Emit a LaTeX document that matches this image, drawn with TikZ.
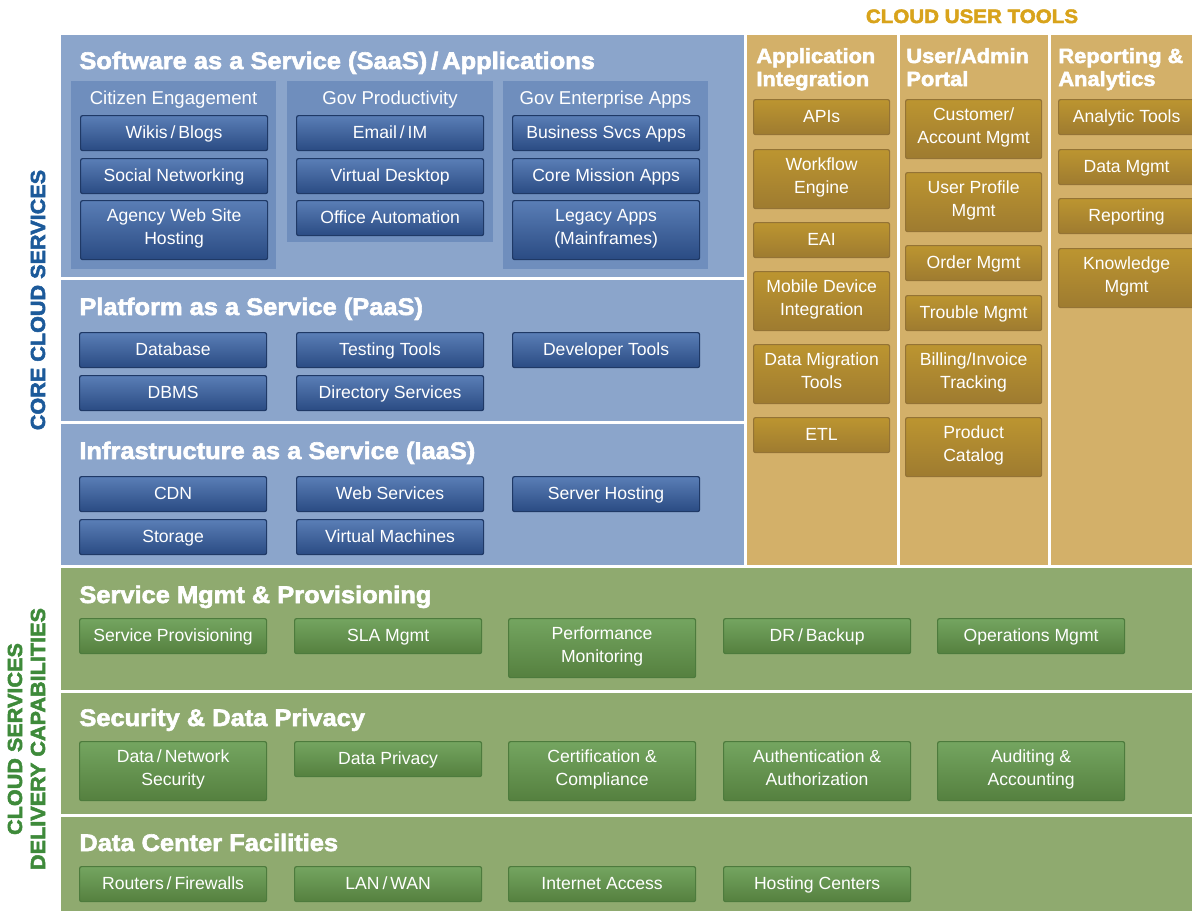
\documentclass[tikz,border=0pt]{standalone}
\usepackage{fontspec}
\setmainfont{Liberation Sans}
\newfontfamily\headfont[FakeStretch=1.06,FakeBold=2.5]{Liberation Sans Bold}
\usetikzlibrary{positioning}

\definecolor{bandblue}{HTML}{8BA5CB}
\definecolor{panelblue}{HTML}{6F8EBD}
\definecolor{blueTop}{HTML}{5A7EB6}
\definecolor{blueBot}{HTML}{2A4B83}
\definecolor{blueLine}{HTML}{1F3966}
\definecolor{bandgold}{HTML}{D3B069}
\definecolor{goldTop}{HTML}{BC9530}
\definecolor{goldBot}{HTML}{9E7B30}
\definecolor{goldLine}{HTML}{947335}
\definecolor{bandgreen}{HTML}{8FAA6F}
\definecolor{greenTop}{HTML}{74A560}
\definecolor{greenBot}{HTML}{55803F}
\definecolor{greenLine}{HTML}{4D7B3D}
\definecolor{coreblue}{HTML}{1C5A9A}
\definecolor{deliverygreen}{HTML}{3E8A3A}
\definecolor{toolsgold}{HTML}{D8A31B}

% struts that keep box labels centred on their capitals
\newcommand\topstrut{\rule{0pt}{8.5pt}}
\newcommand\botstrut{\rule[-3pt]{0pt}{3pt}}

\tikzset{%
  svc/.style={draw, rounded corners=1pt, line width=0.6pt, anchor=north west,
    align=center, text=white, inner sep=0pt,
    font=\fontsize{8.8}{11.5}\selectfont,
    execute at begin node=\topstrut, execute at end node=\botstrut},
  blue box/.style={svc, minimum width=93.5pt, minimum height=17.5pt,
    draw=blueLine, top color=blueTop, bottom color=blueBot},
  gold box/.style={svc, minimum width=68pt, minimum height=17.5pt,
    draw=goldLine, top color=goldTop, bottom color=goldBot},
  green box/.style={svc, minimum width=93.5pt, minimum height=17.5pt,
    draw=greenLine, top color=greenTop, bottom color=greenBot},
  tall/.style={minimum height=29.5pt},
  layer title/.style={anchor=base west, inner sep=0pt, text=white,
    font=\headfont\fontsize{12}{14}\selectfont},
  column title/.style={anchor=base west, align=left, inner sep=0pt, text=white,
    font=\headfont\fontsize{10.3}{11.5}\selectfont},
  group title/.style={anchor=base, inner sep=0pt, text=white,
    font=\fontsize{9.3}{11}\selectfont},
  side label/.style={rotate=90, align=center, inner sep=0pt,
    font=\headfont\fontsize{10.2}{11.5}\selectfont}
}

\begin{document}
\begin{tikzpicture}[x=0.5pt, y=-0.5pt]
  \useasboundingbox (0,0) rectangle (1192,911);
  \clip (0,0) rectangle (1192,911);

  % bands
  \fill[bandblue] (61,35) rectangle (744,277);
  \fill[bandblue] (61,280) rectangle (744,421);
  \fill[bandblue] (61,424) rectangle (744,565);
  \fill[bandgold] (747,35) rectangle (897,565);
  \fill[bandgold] (900,35) rectangle (1048,565);
  \fill[bandgold] (1051,35) rectangle (1192,565);
  \fill[bandgreen] (61,568) rectangle (1192,690);
  \fill[bandgreen] (61,693) rectangle (1192,814);
  \fill[bandgreen] (61,817) rectangle (1192,911);

  % side labels
  \node[side label, text=coreblue] (core) at (38,300) {CORE CLOUD SERVICES};
  \node[side label, text=deliverygreen] (delivery) at (26.5,739)
    {CLOUD SERVICES\\DELIVERY CAPABILITIES};
  \node[anchor=base, inner sep=0pt, text=toolsgold,
    font=\headfont\fontsize{9.7}{12}\selectfont] (tools) at (972,23) {CLOUD USER TOOLS};

  % SaaS
  \node[layer title] (saas) at (79,69) {Software as a Service (SaaS)\,/\,Applications};
  \fill[panelblue] (71,81) rectangle (276,269);
  \fill[panelblue] (287,81) rectangle (493,242);
  \fill[panelblue] (503,81) rectangle (708,269);
  \node[group title] (citizen) at (173.5,104) {Citizen Engagement};
  \node[group title] (govprod) at (390,104) {Gov Productivity};
  \node[group title] (govent) at (605.5,104) {Gov Enterprise Apps};

  \node[blue box] (wikis) at (80,115) {Wikis\,/\,Blogs};
  \node[blue box] (social) at (80,158) {Social Networking};
  \node[blue box, tall] (agency) at (80,200) {Agency Web Site\\Hosting};
  \node[blue box] (email) at (296,115) {Email\,/\,IM};
  \node[blue box] (vdesk) at (296,158) {Virtual Desktop};
  \node[blue box] (office) at (296,200) {Office Automation};
  \node[blue box] (bizapps) at (512,115) {Business Svcs Apps};
  \node[blue box] (coreapps) at (512,158) {Core Mission Apps};
  \node[blue box, tall] (legacy) at (512,200) {Legacy Apps\\(Mainframes)};

  % PaaS
  \node[layer title] (paas) at (79,315) {Platform as a Service (PaaS)};
  \node[blue box] (database) at (79,332) {Database};
  \node[blue box] (testing) at (296,332) {Testing Tools};
  \node[blue box] (devtools) at (512,332) {Developer Tools};
  \node[blue box] (dbms) at (79,375) {DBMS};
  \node[blue box] (directory) at (296,375) {Directory Services};

  % IaaS
  \node[layer title] (iaas) at (79,459) {Infrastructure as a Service (IaaS)};
  \node[blue box] (cdn) at (79,476) {CDN};
  \node[blue box] (websvc) at (296,476) {Web Services};
  \node[blue box] (hosting) at (512,476) {Server Hosting};
  \node[blue box] (storage) at (79,519) {Storage};
  \node[blue box] (vms) at (296,519) {Virtual Machines};

  % user tools columns (base is the second line)
  \node[column title] (appint) at (756,86) {Application\\Integration};
  \node[column title] (portal) at (906,86) {User/Admin\\Portal};
  \node[column title] (analytics) at (1058,86) {Reporting \&\\Analytics};

  \node[gold box] (apis) at (753,99) {APIs};
  \node[gold box, tall] (workflow) at (753,149) {Workflow\\Engine};
  \node[gold box] (eai) at (753,222) {EAI};
  \node[gold box, tall] (mobile) at (753,271) {Mobile Device\\Integration};
  \node[gold box, tall] (migration) at (753,344) {Data Migration\\Tools};
  \node[gold box] (etl) at (753,417) {ETL};

  \node[gold box, tall] (customer) at (905,99) {Customer/\\Account Mgmt};
  \node[gold box, tall] (profile) at (905,172) {User Profile\\Mgmt};
  \node[gold box] (order) at (905,245) {Order Mgmt};
  \node[gold box] (trouble) at (905,295) {Trouble Mgmt};
  \node[gold box, tall] (billing) at (905,344) {Billing/Invoice\\Tracking};
  \node[gold box, tall] (catalog) at (905,417) {Product\\Catalog};

  \node[gold box] (analytic) at (1058,99) {Analytic Tools};
  \node[gold box] (datamgmt) at (1058,149) {Data Mgmt};
  \node[gold box] (reporting) at (1058,198) {Reporting};
  \node[gold box, tall] (knowledge) at (1058,248) {Knowledge\\Mgmt};

  % delivery capabilities
  \node[layer title] (provtitle) at (79,603) {Service Mgmt \& Provisioning};
  \node[green box] (provisioning) at (79,618) {Service Provisioning};
  \node[green box] (sla) at (294,618) {SLA Mgmt};
  \node[green box, tall] (perf) at (508,618) {Performance\\Monitoring};
  \node[green box] (backup) at (723,618) {DR\,/\,Backup};
  \node[green box] (ops) at (937,618) {Operations Mgmt};

  \node[layer title] (sectitle) at (79,726) {Security \& Data Privacy};
  \node[green box, tall] (netsec) at (79,741) {Data\,/\,Network\\Security};
  \node[green box] (privacy) at (294,741) {Data Privacy};
  \node[green box, tall] (cert) at (508,741) {Certification \&\\Compliance};
  \node[green box, tall] (auth) at (723,741) {Authentication \&\\Authorization};
  \node[green box, tall] (audit) at (937,741) {Auditing \&\\Accounting};

  \node[layer title] (dctitle) at (79,851) {Data Center Facilities};
  \node[green box] (routers) at (79,866) {Routers\,/\,Firewalls};
  \node[green box] (lanwan) at (294,866) {LAN\,/\,WAN};
  \node[green box] (internet) at (508,866) {Internet Access};
  \node[green box] (centers) at (723,866) {Hosting Centers};
\end{tikzpicture}
\end{document}
